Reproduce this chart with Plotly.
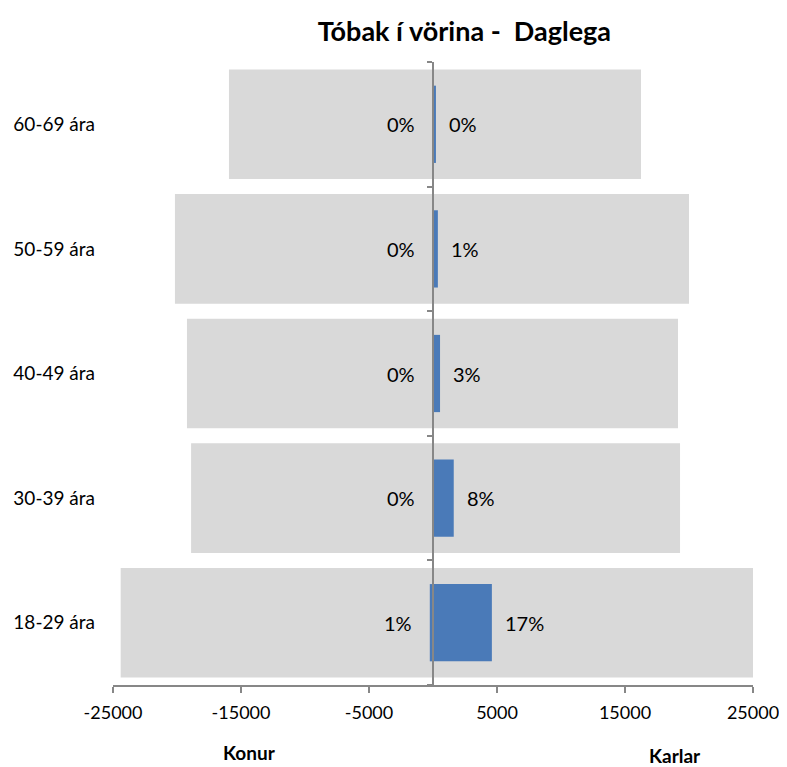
import plotly.graph_objects as go

# ---- data ----
categories = ["18-29 ára", "30-39 ára", "40-49 ára", "50-59 ára", "60-69 ára"]
women_total = [24400, 18900, 19220, 20160, 15940]   # Konur (left)
men_total = [25300, 19300, 19140, 20000, 16250]     # Karlar (right)
women_users = [250, 0, 0, 0, 0]
men_users = [4600, 1620, 550, 380, 230]
women_pct = ["1%", "0%", "0%", "0%", "0%"]
men_pct = ["17%", "8%", "3%", "1%", "0%"]
x_tickvals = [-25000, -15000, -5000, 5000, 15000, 25000]
x_ticktext = ["-25000", "-15000", "-5000", "5000", "15000", "25000"]
title_text = "Tóbak í vörina -\u00a0 Daglega"
left_label = "Konur"
right_label = "Karlar"

FONT = "Lato"
GREY = "#D9D9D9"
BLUE = "#4A7AB8"
AXIS = "#878787"

# the page body adds an 8px margin, so the figure is 8px smaller than the window
W, H = 779, 759

fig = go.Figure()

# background (total population) bars
fig.add_trace(go.Bar(y=categories, x=[-v for v in women_total], orientation="h",
                     marker=dict(color=GREY, line=dict(width=0)), width=0.88,
                     yaxis="y", showlegend=False, hoverinfo="skip"))
fig.add_trace(go.Bar(y=categories, x=men_total, orientation="h",
                     marker=dict(color=GREY, line=dict(width=0)), width=0.88,
                     yaxis="y", showlegend=False, hoverinfo="skip"))

# users bars
fig.add_trace(go.Bar(y=categories, x=[-v for v in women_users], orientation="h",
                     marker=dict(color=BLUE, line=dict(width=0)), width=0.62,
                     yaxis="y2", showlegend=False))
fig.add_trace(go.Bar(y=categories, x=men_users, orientation="h",
                     marker=dict(color=BLUE, line=dict(width=0)), width=0.62,
                     yaxis="y2", showlegend=False))

annotations = []
for c, v, t in zip(categories, women_users, women_pct):
    annotations.append(dict(x=-v, y=c, xref="x", yref="y2", text=t, showarrow=False,
                            xanchor="right", xshift=-16,
                            font=dict(family=FONT, size=20, color="#000000")))
for c, v, t in zip(categories, men_users, men_pct):
    annotations.append(dict(x=v, y=c, xref="x", yref="y2", text=t, showarrow=False,
                            xanchor="left", xshift=11,
                            font=dict(family=FONT, size=20, color="#000000")))
annotations.append(dict(x=-14300, y=-0.108, xref="x", yref="paper", text=f"<b>{left_label}</b>",
                        showarrow=False, xanchor="center", yanchor="middle",
                        font=dict(family=FONT, size=19, color="#000000")))
annotations.append(dict(x=18900, y=-0.113, xref="x", yref="paper", text=f"<b>{right_label}</b>",
                        showarrow=False, xanchor="center", yanchor="middle",
                        font=dict(family=FONT, size=19, color="#000000")))

fig.update_layout(
    width=W, height=H,
    margin=dict(l=105, r=34, t=54, b=82),
    paper_bgcolor="white", plot_bgcolor="white",
    barmode="overlay",
    font=dict(family=FONT, size=18, color="#000000"),
    title=dict(text=f"<b>{title_text}</b>", x=0.549, xref="paper", xanchor="center",
               y=1 - 24 / H, yanchor="middle", yref="container",
               font=dict(family=FONT, size=27, color="#000000")),
    xaxis=dict(range=[-25000, 25000], tickvals=x_tickvals, ticktext=x_ticktext,
               ticks="outside", ticklen=6, tickwidth=1.5, tickcolor=AXIS,
               showline=True, linecolor=AXIS, linewidth=1.5,
               showgrid=False, zeroline=False, automargin=False,
               ticklabelstandoff=5, tickfont=dict(family=FONT, size=18)),
    yaxis=dict(categoryorder="array", categoryarray=categories, range=[-0.5, 4.5],
               showline=False, ticks="", showgrid=False, zeroline=False, automargin=False,
               ticklabelstandoff=17, tickfont=dict(family=FONT, size=19)),
    yaxis2=dict(categoryorder="array", categoryarray=categories, range=[-0.5, 4.5],
                overlaying="y", anchor="free", position=0.5, side="left",
                showline=True, linecolor=AXIS, linewidth=1.5, automargin=False,
                ticks="outside", tickson="boundaries", ticklen=5, tickwidth=1.5,
                tickcolor=AXIS, showticklabels=False, showgrid=False, zeroline=False),
    annotations=annotations,
)

fig.write_html("out.html")
